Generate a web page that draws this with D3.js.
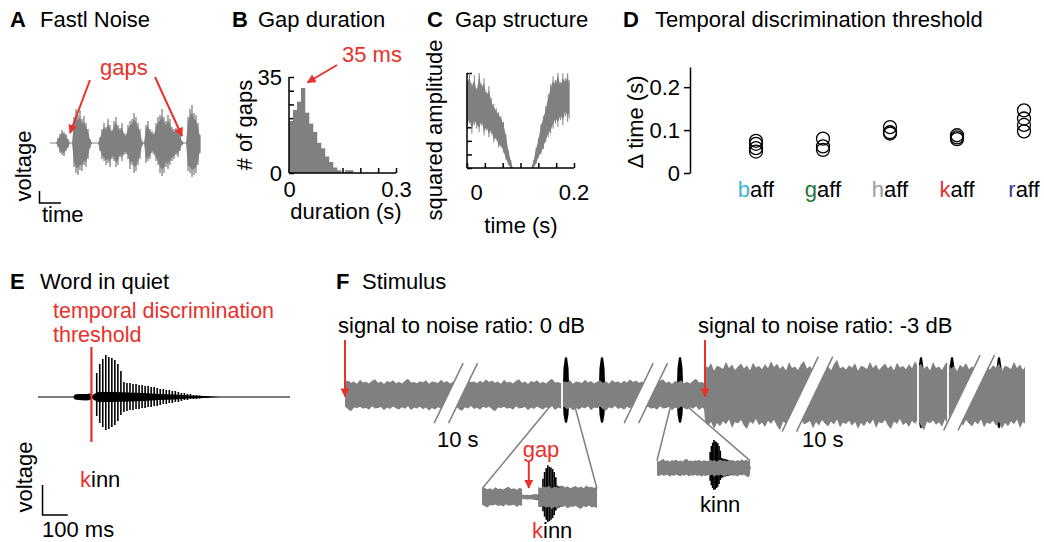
<!DOCTYPE html>
<html>
<head>
<meta charset="utf-8">
<script src="https://cdn.jsdelivr.net/npm/d3@7/dist/d3.min.js"></script>
<style>
  body { margin: 0; background: #fff; }
  svg { font-family: "Liberation Sans", Arial, sans-serif; font-size: 22px; }
</style>
</head>
<body>
<div id="figure"></div>
<script>
const WIDTH = 1044;
const HEIGHT = 542;
const RED = "#e8312a";
const GRAY = "#808080";

// A: Fastl noise envelope (upper / lower), one value per sample
const FASTL_UP = [0, 0, 0, 0, 5, 9, 13, 11, 9, 4, 0, 0, 26, 34, 28, 33, 24, 27, 20, 14,
  4, 0, 0, 0, 0, 6, 14, 20, 16, 24, 18, 13, 22, 26, 18, 15, 20, 10, 9, 18,
  22, 24, 30, 26, 20, 14, 2, 0, 18, 22, 14, 12, 10, 20, 26, 28, 34, 26, 22, 28,
  24, 16, 14, 15, 12, 10, 2, 0, 0, 26, 34, 38, 30, 28, 20, 8];
const FASTL_DOWN = [0, 0, 0, 0, 4, 10, 12, 13, 8, 5, 0, 0, 24, 30, 32, 27, 28, 22, 24, 16,
  5, 0, 0, 0, 0, 8, 16, 18, 22, 20, 24, 16, 18, 24, 22, 14, 18, 12, 11, 16,
  26, 22, 30, 28, 22, 16, 3, 0, 20, 18, 16, 10, 12, 18, 22, 30, 33, 30, 24, 26,
  22, 18, 16, 12, 14, 8, 2, 0, 0, 28, 30, 34, 32, 30, 22, 10];
const FASTL_GAPS = [10, 66];

// B: gap duration histogram
const GAP_BIN = 0.0112;
const GAP_COUNTS = [19, 23, 26, 31, 22, 18, 15, 11, 9, 6, 4, 2, 1, 0, 1, 1];
const GAP_PEAK = 0.035;

// C: squared amplitude around one gap
const RAMP_DOWN_T = [-0.020, -0.015, -0.010, -0.005, 0.000, 0.005, 0.010, 0.015, 0.020, 0.025,
  0.030, 0.035, 0.040, 0.045, 0.050, 0.055, 0.060, 0.065, 0.070, 0.074];
const RAMP_DOWN_HI = [0.88, 0.96, 0.85, 0.93, 0.80, 0.98, 0.84, 0.90, 0.76, 0.82,
  0.70, 0.64, 0.60, 0.56, 0.52, 0.46, 0.34, 0.18, 0.08, 0.0];
const RAMP_DOWN_LO = [0.45, 0.52, 0.40, 0.50, 0.46, 0.42, 0.50, 0.38, 0.44, 0.36,
  0.40, 0.30, 0.32, 0.24, 0.24, 0.18, 0.10, 0.04, 0.0, 0.0];
const RAMP_UP_T = [0.112, 0.117, 0.122, 0.127, 0.132, 0.137, 0.142, 0.147, 0.152, 0.157,
  0.162, 0.167, 0.172, 0.177, 0.182, 0.187, 0.190];
const RAMP_UP_HI = [0.0, 0.08, 0.20, 0.30, 0.44, 0.52, 0.62, 0.74, 0.84, 0.92,
  0.88, 0.98, 0.86, 0.95, 0.90, 0.97, 0.88];
const RAMP_UP_LO = [0.0, 0.0, 0.05, 0.12, 0.16, 0.22, 0.30, 0.36, 0.40, 0.46,
  0.52, 0.48, 0.56, 0.50, 0.60, 0.54, 0.58];

// D: temporal discrimination thresholds (s)
const WORDS = ["baff", "gaff", "haff", "kaff", "raff"];
const ONSET_COLORS = ["#3cb4da", "#22783a", "#9b9b9b", "#e8312a", "#3a3d96"];
const THRESHOLDS = [
  [0.075, 0.068, 0.058, 0.050],
  [0.080, 0.062, 0.054],
  [0.107, 0.095, 0.092],
  [0.088, 0.083, 0.079],
  [0.146, 0.127, 0.112, 0.097]
];
const D_TICKS = [0, 0.1, 0.2];

// E: "kinn" in quiet, pitch pulses (ms) and their amplitudes
const KINN_T = [233, 245, 257, 269, 281, 293, 305, 317, 329, 341, 353, 365, 377, 389, 401, 413, 425, 437, 449,
  461, 473, 485, 497, 509, 521, 533, 545, 557, 569, 581, 593, 605, 617, 629, 641, 653, 665, 677];
const KINN_UP = [24, 33, 38, 42, 40, 39, 37, 33, 26, 15, 14, 14, 13, 13, 12, 12, 11, 11, 10,
  10, 9, 8, 8, 7, 7, 6, 6, 5, 4, 4, 3, 3, 2, 2, 1.5, 1, 1, 0.5];
const KINN_DOWN = [19, 26, 30, 33, 32, 30, 28, 24, 18, 15, 14, 13, 13, 12, 12, 11, 11, 10, 10,
  9, 9, 8, 7, 7, 6, 6, 5, 5, 4, 3, 3, 2, 2, 2, 1.5, 1, 1, 0.5];
const KINN_BODY_T = [140, 146, 160, 190, 208, 214, 222, 240, 300, 360, 420, 480, 540, 600, 660, 720];
const KINN_BODY_UP = [0, 2.5, 3, 3, 3.5, 1, 3, 5, 5, 4.5, 4, 3, 2.5, 1.5, 1, 0];
const KINN_BODY_DOWN = [0, 2.5, 3, 3.5, 3, 1, 3, 5, 5, 4.5, 4, 3, 2.5, 1.5, 1, 0];
const THRESHOLD_MS = 212;

// F: stimulus strip
const SNR_FROM = [0, 36];
const SNR_TO = [36, 68];
const SNR_LEVEL = [0.43, 0.93];
const SNR_LABELS = ["signal to noise ratio: 0 dB", "signal to noise ratio: -3 dB"];
const NOISE_JITTER = [1.00, 1.12, 0.94, 1.05, 0.88, 1.18, 0.97, 1.02, 0.90, 1.10, 1.22, 0.95,
  1.04, 0.86, 1.08, 0.99, 1.15, 0.92, 1.03, 0.89, 1.11, 1.26, 0.96, 1.01,
  0.91, 1.07, 0.98, 1.14, 0.87, 1.05, 1.00, 0.93, 1.19, 0.97, 1.09, 0.90,
  1.02, 1.13, 0.95, 1.06, 0.88, 1.16, 0.99, 1.04, 0.92, 1.10, 0.96, 1.21];
const WORD_T = [22.1, 25.7, 33.5, 57.6, 60.7, 65.4];
const WORD_HI = [1.28, 1.28, 1.28, 1.28, 1.28, 1.28];
const WORD_LO = [-0.94, -0.94, -0.94, -1.12, -1.12, -1.12];
const SPINDLE_DT = [-0.34, -0.25, -0.12, 0, 0.12, 0.25, 0.34];
const SPINDLE_F = [0, 0.7, 0.95, 1, 0.95, 0.7, 0];
const GAP_T = [21.7, 57.3, 60.3];
const BREAK_T = [11.0, 30.0, 46.2, 62.3];
const BREAK_LO = [-0.94, -0.94, -1.22, -1.18];
const BREAK_HI = [1.06, 1.06, 1.28, 1.33];

var svg = d3.select("#figure")
  .append("svg")
  .attr("width", WIDTH)
  .attr("height", HEIGHT);

svg.append("defs").append("marker")
  .attr("id", "head")
  .attr("viewBox", "0 0 10 10")
  .attr("refX", 9)
  .attr("refY", 5)
  .attr("markerWidth", 9)
  .attr("markerHeight", 9)
  .attr("markerUnits", "userSpaceOnUse")
  .attr("orient", "auto")
  .append("path")
  .attr("d", "M0,0L10,5L0,10z")
  .attr("fill", RED);

function addText(g, x, y, str, fill) {
  return g.append("text").attr("x", x).attr("y", y).attr("fill", fill || "#000").text(str);
}

function addRotated(g, x, y, str) {
  return g.append("text")
    .attr("transform", `translate(${x},${y}) rotate(-90)`)
    .attr("text-anchor", "middle")
    .text(str);
}

function addArrow(g, x1, y1, x2, y2) {
  g.append("line")
    .attr("x1", x1).attr("y1", y1).attr("x2", x2).attr("y2", y2)
    .attr("stroke", RED)
    .attr("stroke-width", 2)
    .attr("marker-end", "url(#head)");
}

function addWord(g, x, y, word, color, anchor) {
  var t = g.append("text").attr("x", x).attr("y", y).attr("text-anchor", anchor || "start");
  t.append("tspan").attr("fill", color).text(word[0]);
  t.append("tspan").attr("fill", "#000").text(word.slice(1));
  return t;
}

function addLine(g, x1, y1, x2, y2, color, width) {
  g.append("line")
    .attr("x1", x1).attr("y1", y1).attr("x2", x2).attr("y2", y2)
    .attr("stroke", color || "#000")
    .attr("stroke-width", width || 1.5);
}

function styleAxis(g) {
  g.attr("font-size", null).attr("font-family", null);
  g.selectAll("line, path").attr("stroke", "#000").attr("stroke-width", 1.5);
  g.selectAll("text").attr("fill", "#000");
}

// panel titles
[["A", "Fastl Noise", 10, 40, 27], ["B", "Gap duration", 232, 258, 27],
 ["C", "Gap structure", 427, 455, 27], ["D", "Temporal discrimination threshold", 623, 655, 27],
 ["E", "Word in quiet", 10, 40, 289], ["F", "Stimulus", 336, 362, 289]].forEach(p => {
  addText(svg, p[2], p[4], p[0]).attr("font-weight", "bold");
  addText(svg, p[3], p[4], p[1]);
});

// ---------- A ----------
function renderNoise() {
  var g = svg.append("g");
  var x = d3.scaleLinear().domain([0, FASTL_UP.length - 1]).range([50, 200]);
  var y = d3.scaleLinear().domain([-40, 40]).range([183, 103]);

  addLine(g, x(0), y(0), x(FASTL_UP.length - 1), y(0), GRAY, 1.2);
  g.append("path")
    .datum(FASTL_UP)
    .attr("fill", GRAY)
    .attr("d", d3.area()
      .x((d, i) => x(i))
      .y0((d, i) => y(-FASTL_DOWN[i] * 0.8))
      .y1(d => y(d * 0.8)));
  g.selectAll(null)
    .data(FASTL_UP)
    .enter()
    .append("line")
    .attr("x1", (d, i) => x(i)).attr("x2", (d, i) => x(i))
    .attr("y1", d => y(d)).attr("y2", (d, i) => y(-FASTL_DOWN[i]))
    .attr("stroke", GRAY)
    .attr("stroke-width", 1.3);

  addText(g, 100, 75, "gaps", RED);
  addArrow(g, x(FASTL_GAPS[0]) + 20, 80, x(FASTL_GAPS[0]), y(10));
  addArrow(g, x(FASTL_GAPS[1]) - 27, 77, x(FASTL_GAPS[1]), y(7));

  addRotated(g, 31, 166, "voltage");
  g.append("path").attr("d", "M39.5,191V203H61").attr("fill", "none").attr("stroke", "#000").attr("stroke-width", 1.5);
  addText(g, 42, 222, "time");
}

// ---------- B ----------
function renderHistogram() {
  var g = svg.append("g");
  var x = d3.scaleLinear().domain([0, 0.3]).range([289, 396]);
  var y = d3.scaleLinear().domain([0, 35]).range([173, 77]);

  g.append("g")
    .attr("transform", `translate(0,${y(0)})`)
    .call(d3.axisBottom(x).tickValues(d3.range(0, 0.31, 0.05)).tickSize(-5).tickSizeOuter(0).tickPadding(8)
      .tickFormat(d => d === 0 ? "0" : Math.abs(d - 0.3) < 1e-6 ? "0.3" : ""))
    .call(styleAxis)
    .select(".domain").remove();
  g.append("g")
    .attr("transform", `translate(${x(0)},0)`)
    .call(d3.axisLeft(y).tickValues(d3.range(0, 36, 5)).tickSize(-5).tickSizeOuter(0).tickPadding(7)
      .tickFormat(d => d === 0 || d === 35 ? d : ""))
    .call(styleAxis)
    .select(".domain").remove();

  g.selectAll("rect.bar")
    .data(GAP_COUNTS)
    .enter()
    .append("rect")
    .attr("class", "bar")
    .attr("x", (d, i) => x(i * GAP_BIN))
    .attr("width", x(GAP_BIN) - x(0) + 0.3)
    .attr("y", d => y(d))
    .attr("height", d => y(0) - y(d))
    .attr("fill", GRAY);

  addLine(g, x(0), y(0), x(0.3), y(0));
  addLine(g, x(0), y(0), x(0), y(35));

  addRotated(g, 252, 125, "# of gaps");
  addText(g, 346, 219, "duration (s)").attr("text-anchor", "middle");
  addText(g, 342, 62, "35 ms", RED);
  addArrow(g, 337, 65, x(GAP_PEAK) + 6, y(33));
}

// ---------- C ----------
function renderGapStructure() {
  var g = svg.append("g");
  var x = d3.scaleLinear().domain([-0.02, 0.2]).range([467, 574]);
  var y = d3.scaleLinear().domain([0, 1]).range([168, 73]);

  g.append("g")
    .attr("transform", `translate(0,${y(0)})`)
    .call(d3.axisBottom(x).tickValues(d3.range(7).map(i => -0.02 + i * 0.22 / 6)).tickSize(-5).tickSizeOuter(0).tickFormat(""))
    .call(styleAxis)
    .select(".domain").remove();
  g.append("g")
    .attr("transform", `translate(${x(-0.02)},0)`)
    .call(d3.axisLeft(y).tickValues(d3.range(8).map(i => i / 7)).tickSize(-5).tickSizeOuter(0).tickFormat(""))
    .call(styleAxis)
    .select(".domain").remove();

  var area = d3.area().x(d => x(d.t)).y0(d => y(d.lo)).y1(d => y(d.hi));
  [[RAMP_DOWN_T, RAMP_DOWN_HI, RAMP_DOWN_LO], [RAMP_UP_T, RAMP_UP_HI, RAMP_UP_LO]].forEach(s => {
    var pts = s[0].map((t, i) => ({ t: t, hi: s[1][i], lo: s[2][i] }));
    g.append("path")
      .datum(pts)
      .attr("fill", GRAY)
      .attr("d", area);
    g.selectAll(null)
      .data(pts)
      .enter()
      .append("line")
      .attr("x1", d => x(d.t)).attr("x2", d => x(d.t))
      .attr("y1", d => y(Math.min(1, d.hi * 1.05))).attr("y2", d => y(d.lo * 0.9))
      .attr("stroke", GRAY)
      .attr("stroke-width", 1);
  });

  addLine(g, x(-0.02), y(0), x(0.2), y(0));
  addLine(g, x(-0.02), y(0), x(-0.02), y(1));

  addText(g, x(0), 200, "0").attr("text-anchor", "middle");
  addText(g, x(0.2), 200, "0.2").attr("text-anchor", "middle");
  addRotated(g, 442, 130, "squared amplitude");
  addText(g, 521, 233, "time (s)").attr("text-anchor", "middle");
}

// ---------- D ----------
function renderThresholds() {
  var g = svg.append("g");
  var x = d3.scalePoint().domain(WORDS).range([756, 1024]);
  var y = d3.scaleLinear().domain([0, 0.247]).range([173, 67]);

  g.append("g")
    .attr("transform", `translate(690,0)`)
    .call(d3.axisLeft(y).tickValues(D_TICKS).tickSize(6).tickSizeOuter(0).tickPadding(4).tickFormat(d3.format("")))
    .call(styleAxis);

  WORDS.forEach((w, i) => {
    g.selectAll(null)
      .data(THRESHOLDS[i])
      .enter()
      .append("circle")
      .attr("cx", x(w))
      .attr("cy", d => y(d))
      .attr("r", 6.5)
      .attr("fill", "none")
      .attr("stroke", "#000")
      .attr("stroke-width", 1.3);
    addWord(g, x(w), 197, w, ONSET_COLORS[i], "middle");
  });

  addRotated(g, 643, 122, "\u0394 time (s)");
}

// ---------- E ----------
function renderKinnParts(g, x, y, offset, maxT) {
  var body = KINN_BODY_T.map((t, i) => ({ t: t + offset, up: KINN_BODY_UP[i], down: KINN_BODY_DOWN[i] }))
    .filter(d => d.t <= maxT);
  g.append("path")
    .datum(body)
    .attr("fill", "#000")
    .attr("d", d3.area().x(d => x(d.t)).y0(d => y(-d.down)).y1(d => y(d.up)));
  g.selectAll(null)
    .data(KINN_T.map((t, i) => ({ t: t + offset, up: KINN_UP[i], down: KINN_DOWN[i] })).filter(d => d.t <= maxT))
    .enter()
    .append("line")
    .attr("x1", d => x(d.t)).attr("x2", d => x(d.t))
    .attr("y1", d => y(d.up)).attr("y2", d => y(-d.down))
    .attr("stroke", "#000")
    .attr("stroke-width", 1.6);
}

function renderWordInQuiet() {
  var g = svg.append("g");
  var x = d3.scaleLinear().domain([0, 1000]).range([38, 290]);
  var y = d3.scaleLinear().domain([-45, 45]).range([442, 352]);

  addLine(g, x(0), y(0), x(1000), y(0), "#000", 1.2);
  renderKinnParts(g, x, y, 0, 1000);
  addLine(g, x(THRESHOLD_MS), y(-45), x(THRESHOLD_MS), y(50), RED, 2.2);

  addText(g, 53, 318, "temporal discrimination", RED).attr("font-size", 21.5);
  addText(g, 53, 342, "threshold", RED).attr("font-size", 21.5);
  addWord(g, 80, 487, "kinn", RED);
  addRotated(g, 32, 477, "voltage");
  g.append("path")
    .attr("d", `M${x(18)},485V515H${x(118)}`)
    .attr("fill", "none").attr("stroke", "#000").attr("stroke-width", 1.5);
  addText(g, 42, 537, "100 ms");
}

// ---------- F ----------
function noiseBand(from, to, step, level, start) {
  var pts = d3.range(from, to, step).concat([to]);
  return pts.map((t, i) => ({
    t: t,
    hi: level * NOISE_JITTER[(start + i) % NOISE_JITTER.length],
    lo: -level * NOISE_JITTER[(start + i + 19) % NOISE_JITTER.length]
  }));
}

function renderStimulus() {
  var g = svg.append("g");
  var x = d3.scaleLinear().domain([0, 68]).range([345, 1025]);
  var y = d3.scaleLinear().domain([-1, 1]).range([425, 365]);
  var k = 1.45;
  var half = 0.72;

  // words behind the noise
  WORD_T.forEach((t, i) => {
    g.append("path")
      .datum(SPINDLE_DT.map((dt, j) => ({ t: t + dt, f: SPINDLE_F[j] })))
      .attr("fill", "#000")
      .attr("d", d3.area().x(d => x(d.t)).y0(d => y(WORD_LO[i] * d.f)).y1(d => y(WORD_HI[i] * d.f)));
  });

  var band = [];
  SNR_FROM.forEach((f, i) => {
    band = band.concat(noiseBand(f, SNR_TO[i] - (i === 0 ? 0.1 : 0), 0.3, SNR_LEVEL[i], band.length));
  });
  g.append("path")
    .datum(band)
    .attr("fill", GRAY)
    .attr("d", d3.area().x(d => x(d.t)).y0(d => y(d.lo)).y1(d => y(d.hi)));

  GAP_T.forEach(t => {
    var lvl = t < SNR_TO[0] ? 0.6 : 1.2;
    addLine(g, x(t), y(-lvl), x(t), y(lvl), "#fff", 1.8);
  });

  BREAK_T.forEach((t, i) => {
    var lo = BREAK_LO[i], hi = BREAK_HI[i];
    g.append("path")
      .attr("d", d3.line()([
        [x(t - half + lo * k), y(lo)], [x(t + half + lo * k), y(lo)],
        [x(t + half + hi * k), y(hi)], [x(t - half + hi * k), y(hi)]]) + "Z")
      .attr("fill", "#fff");
    addLine(g, x(t - half + lo * k), y(lo), x(t - half + hi * k), y(hi), GRAY, 1.5);
    addLine(g, x(t + half + lo * k), y(lo), x(t + half + hi * k), y(hi), GRAY, 1.5);
  });

  SNR_FROM.forEach((f, i) => {
    addText(g, x(f - 0.7), 333, SNR_LABELS[i]);
    addArrow(g, x(f), 340, x(f), y(-0.05));
  });
  addText(g, x(9.2), 447, "10 s");
  addText(g, x(45.7), 447, "10 s");

  // zoomed insets
  var insets = [
    { x0: 482, x1: 597, cy: 497, half: 34, dur: 860, offset: 223, from: 20.33, to: 23.0,
      levels: [[0, 300, 11], [300, 420, 3], [420, 860, 13]] },
    { x0: 657, x1: 750, cy: 468, half: 30, dur: 877, offset: 268, from: 32.5, to: 34.3,
      levels: [[0, 877, 11]] }
  ];
  insets.forEach((ins, n) => {
    var ix = d3.scaleLinear().domain([0, ins.dur]).range([ins.x0, ins.x1]);
    var iy = d3.scaleLinear().domain([-45, 45]).range([ins.cy + ins.half, ins.cy - ins.half]);
    var first = ins.levels[0][2];
    addLine(g, x(ins.from), y(-0.45), ix(0), iy(first), GRAY, 1.5);
    addLine(g, x(ins.to), y(-0.4), ix(ins.dur), iy(first), GRAY, 1.5);
    renderKinnParts(g, ix, iy, ins.offset, ins.dur);
    var count = 7 * n;
    ins.levels.forEach(l => {
      var seg = noiseBand(l[0], l[1], 20, l[2], count);
      count += seg.length;
      g.append("path")
        .datum(seg)
        .attr("fill", GRAY)
        .attr("d", d3.area().x(d => ix(d.t)).y0(d => iy(d.lo)).y1(d => iy(d.hi)));
    });
    if (n === 0) {
      renderKinnParts(g, ix, iy, ins.offset + 160, 420);
      addText(g, 541, 457, "gap", RED).attr("text-anchor", "middle");
      addArrow(g, ix(350), 461, ix(350), iy(12));
      addWord(g, 532, 538, "kinn", RED);
    } else {
      addWord(g, 700, 512, "kinn", "#000");
    }
  });
}

renderNoise();
renderHistogram();
renderGapStructure();
renderThresholds();
renderWordInQuiet();
renderStimulus();
</script>
</body>
</html>
